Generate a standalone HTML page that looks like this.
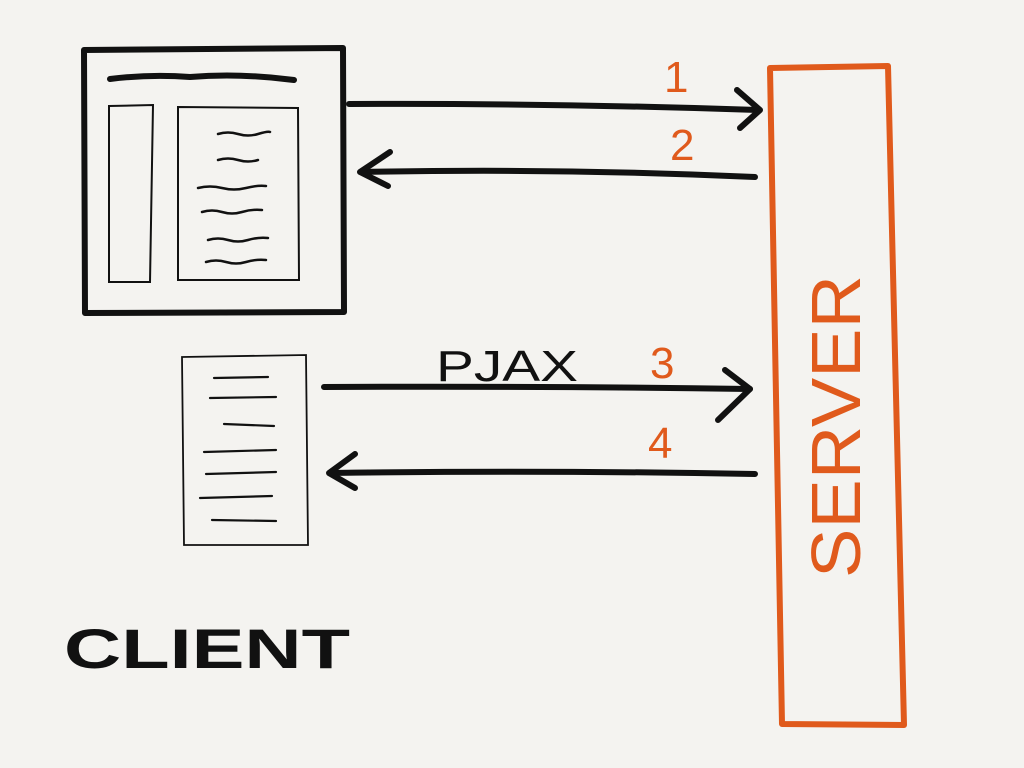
<!DOCTYPE html>
<html><head><meta charset="utf-8"><style>
html,body{margin:0;padding:0;background:#f4f3f0;}
svg{display:block}
text{font-family:"Liberation Sans",sans-serif;}
</style></head><body>
<svg width="1024" height="768" viewBox="0 0 1024 768" xmlns="http://www.w3.org/2000/svg">
<rect width="1024" height="768" fill="#f4f3f0"/>
<path d="M84 50 L343 48 L344 312 L85 313 Z" fill="none" stroke="#111" stroke-width="6" stroke-linejoin="round"/>
<path d="M110 79 Q150 74 190 77 Q240 73 294 80" fill="none" stroke="#111" stroke-width="6" stroke-linecap="round"/>
<path d="M109 106 L153 105 L150 282 L109 282 Z" fill="none" stroke="#111" stroke-width="2"/>
<path d="M178 107 L298 108 L299 280 L178 280 Z" fill="none" stroke="#111" stroke-width="2"/>
<g stroke="#111" stroke-width="2.5" fill="none" stroke-linecap="round">
<path d="M218 134 q10 -3 20 0 t20 0 t12 -2"/>
<path d="M218 160 q10 -3 20 0 t20 0"/>
<path d="M198 188 q12 -3 24 0 t24 0 t20 -2"/>
<path d="M202 212 q10 -3 20 0 t20 0 t20 -2"/>
<path d="M208 240 q10 -3 20 0 t20 0 t20 -2"/>
<path d="M206 262 q10 -3 20 0 t20 0 t20 -2"/>
</g>
<path d="M182 357 L306 355 L308 545 L184 545 Z" fill="none" stroke="#111" stroke-width="1.8"/>
<g stroke="#111" stroke-width="2.2" fill="none" stroke-linecap="round">
<path d="M214 378 L268 377"/><path d="M210 398 L276 397"/><path d="M224 424 L274 426"/>
<path d="M204 452 L276 450"/><path d="M206 474 L276 472"/><path d="M200 498 L272 496"/><path d="M212 520 L276 521"/>
</g>
<g stroke="#111" stroke-width="6" fill="none" stroke-linecap="round" stroke-linejoin="round">
<path d="M349 104 Q550 103 758 110"/><path d="M737 90 L760 110 L740 128"/>
<path d="M755 177 Q560 168 362 172"/><path d="M390 152 L360 172 L388 186"/>
<path d="M324 387 Q540 386 750 389"/><path d="M725 370 L750 389 L718 420"/>
<path d="M755 474 Q540 470 330 473"/><path d="M355 454 L329 473 L355 488"/>
</g>
<g fill="#e05a1c" font-size="44">
<text x="664" y="92">1</text>
<text x="670" y="160">2</text>
<text x="650" y="378">3</text>
<text x="648" y="458">4</text>
</g>
<text x="436" y="381" font-size="44" fill="#111" textLength="142" lengthAdjust="spacingAndGlyphs">PJAX</text>
<text x="64" y="668" font-size="56" font-weight="bold" fill="#111" textLength="286" lengthAdjust="spacingAndGlyphs">CLIENT</text>
<path d="M770 68 L888 66 L904 725 L782 724 Z" fill="none" stroke="#e05a1c" stroke-width="6" stroke-linejoin="round"/>
<text transform="translate(860,578) rotate(-90)" font-size="70" fill="#e05a1c" textLength="303" lengthAdjust="spacingAndGlyphs">SERVER</text>
</svg>
</body></html>
